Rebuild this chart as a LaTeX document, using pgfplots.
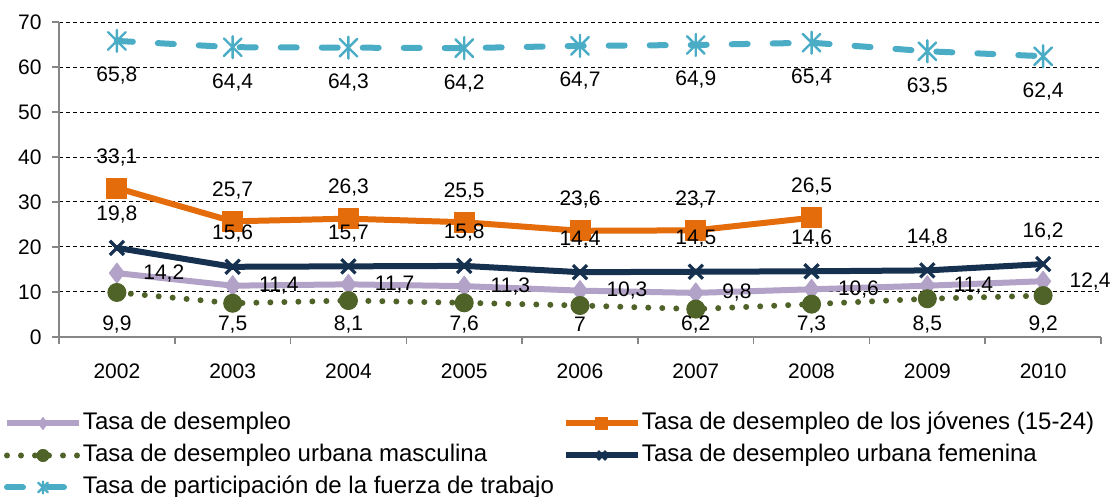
\documentclass[border=0pt]{standalone}
\usepackage{fontspec}
\setmainfont{Liberation Sans}
\usepackage{pgfplots}
\pgfplotsset{compat=1.18}

\definecolor{lav}{HTML}{B3A2C7}
\definecolor{naranja}{HTML}{E46C0A}
\definecolor{verde}{HTML}{4F6228}
\definecolor{marino}{HTML}{16304F}
\definecolor{celeste}{HTML}{4BACC6}
\definecolor{ejegris}{HTML}{868686}

% asterisk as in the office chart: an x with a vertical bar
\pgfdeclareplotmark{xstar}{%
  \pgfpathmoveto{\pgfqpoint{-0.8\pgfplotmarksize}{-0.8\pgfplotmarksize}}%
  \pgfpathlineto{\pgfqpoint{0.8\pgfplotmarksize}{0.8\pgfplotmarksize}}%
  \pgfpathmoveto{\pgfqpoint{-0.8\pgfplotmarksize}{0.8\pgfplotmarksize}}%
  \pgfpathlineto{\pgfqpoint{0.8\pgfplotmarksize}{-0.8\pgfplotmarksize}}%
  \pgfpathmoveto{\pgfqpoint{0pt}{-\pgfplotmarksize}}%
  \pgfpathlineto{\pgfqpoint{0pt}{\pgfplotmarksize}}%
  \pgfusepathqstroke}

\newcommand{\ent}[1]{\makebox[240pt][l]{#1}}

\begin{document}
\fontsize{10.5}{12.6}\selectfont
\begin{tikzpicture}
\path[use as bounding box] (-29.5pt,-80pt) rectangle (525.5pt,168.5pt);
\begin{axis}[
  at={(0,0)}, anchor=south west,
  scale only axis, width=521pt, height=157.5pt,
  xmin=-0.5, xmax=8.5, ymin=0, ymax=70,
  xtick={-0.5,0.5,...,8.5},
  xticklabels={2002,2003,2004,2005,2006,2007,2008,2009,2010},
  x tick label as interval,
  ytick={0,10,...,70},
  axis x line*=bottom, axis y line*=left,
  axis line style={ejegris, line width=0.8pt, -},
  tick style={ejegris, line width=0.8pt},
  tick align=outside, major tick length=3.5pt,
  ymajorgrids,
  major grid style={black, line width=0.5pt, dash pattern=on 2pt off 1.5pt},
  xticklabel style={yshift=-6pt},
  yticklabel style={xshift=-1.5pt},
  /pgf/number format/assume math mode=true,
  /pgf/number format/use comma,
  clip=false,
  legend columns=2,
  legend cell align=left,
  legend style={draw=none, fill=none, inner sep=0pt, outer sep=0pt,
    at={(axis description cs:0,0)}, anchor=north west,
    xshift=-27.5pt, yshift=-37.5pt, row sep=4.5pt,
    font=\fontsize{12}{14}\selectfont,
    nodes={inner sep=0pt, text height=9pt, text depth=2.5pt},
    /tikz/every odd column/.append style={column sep=0.5pt}},
  legend image code/.code={%
    \draw[mark repeat=2, mark phase=2, #1, mark size=3pt]
      plot coordinates {(0pt,0pt) (18pt,0pt) (36pt,0pt)};},
]
\addplot[color=lav, line width=3pt, line join=round,
  mark=diamond*, mark size=5pt, mark options={solid, fill=lav, line width=0.5pt},
  nodes near coords,
  every node near coord/.append style={anchor=west, xshift=9.5pt, yshift=0pt, text=black}]
  coordinates {(0,14.2) (1,11.4) (2,11.7) (3,11.3) (4,10.3) (5,9.8) (6,10.6) (7,11.4) (8,12.4)};
\addlegendentry{\ent{Tasa de desempleo}}

\addplot[color=naranja, line width=3pt, line join=round,
  mark=square*, mark size=5pt, mark options={solid, fill=naranja, line width=0.5pt},
  nodes near coords,
  every node near coord/.append style={anchor=center, yshift=15.5pt, text=black}]
  coordinates {(0,33.1) (1,25.7) (2,26.3) (3,25.5) (4,23.6) (5,23.7) (6,26.5)};
\addlegendentry{\ent{Tasa de desempleo de los jóvenes (15-24)}}

% labels below the points are kept inside the plot area: same height for all
\addplot[color=verde, line width=3pt, line cap=round, dash pattern=on 0pt off 7pt,
  mark=*, mark size=4.5pt, mark options={solid, fill=verde, line width=0.5pt},
  visualization depends on=y \as \rawy,
  nodes near coords,
  every node near coord/.append style={anchor=center,
    yshift={(9.9-\rawy)*2.25-16}, text=black}]
  coordinates {(0,9.9) (1,7.5) (2,8.1) (3,7.6) (4,7) (5,6.2) (6,7.3) (7,8.5) (8,9.2)};
\addlegendentry{\ent{Tasa de desempleo urbana masculina}}

\addplot[color=marino, line width=3pt, line join=round,
  mark=x, mark size=5pt, mark options={solid, line width=1.6pt},
  nodes near coords,
  every node near coord/.append style={anchor=center, yshift=16.5pt, text=black}]
  coordinates {(0,19.8) (1,15.6) (2,15.7) (3,15.8) (4,14.4) (5,14.5) (6,14.6) (7,14.8) (8,16.2)};
\addlegendentry{\ent{Tasa de desempleo urbana femenina}}

\addplot[color=celeste, line width=3pt, line cap=round, dash pattern=on 8pt off 12.5pt,
  mark=xstar, mark size=5.5pt, mark options={solid, line width=1.2pt},
  nodes near coords,
  every node near coord/.append style={anchor=center, yshift=-17.5pt, text=black}]
  coordinates {(0,65.8) (1,64.4) (2,64.3) (3,64.2) (4,64.7) (5,64.9) (6,65.4) (7,63.5) (8,62.4)};
\addlegendentry{\ent{Tasa de participación de la fuerza de trabajo}}
\end{axis}
\end{tikzpicture}
\end{document}
